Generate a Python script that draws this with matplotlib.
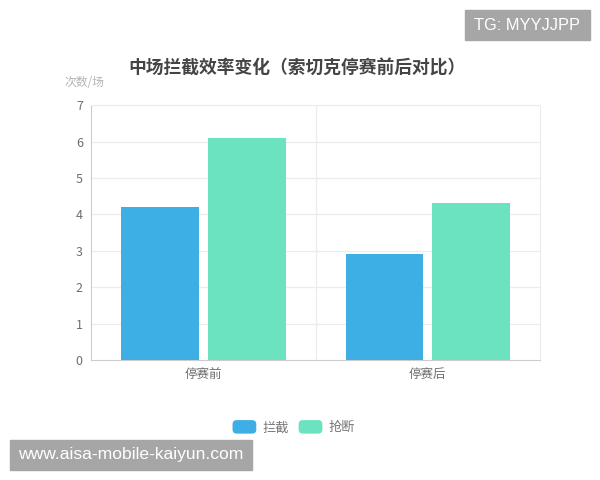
import matplotlib
matplotlib.use("Agg")
import matplotlib.pyplot as plt
from matplotlib.patches import Rectangle, FancyBboxPatch
from matplotlib.legend_handler import HandlerPatch
import numpy as np

plt.rcParams['font.family'] = ['Noto Sans CJK SC', 'DejaVu Sans']

# 数据
categories = ["停赛前", "停赛后"]
series_names = ["拦截", "抢断"]
intercepts = [4.2, 2.9]
tackles = [6.1, 4.3]
colors = ["#3eafe4", "#6be3c0"]


# 圆角图例色块
class RoundHandler(HandlerPatch):
    def create_artists(self, legend, orig_handle, xdescent, ydescent,
                       width, height, fontsize, trans):
        p = FancyBboxPatch((-xdescent, -ydescent), width, height,
                           boxstyle="round,pad=0,rounding_size=3",
                           facecolor=orig_handle.get_facecolor(), edgecolor="none",
                           transform=trans)
        return [p]


fig = plt.figure(figsize=(6, 4.8), dpi=100)
ax = fig.add_axes([0.152, 0.25, 0.748, 0.531])

x = np.arange(len(categories))
w = 0.347
b1 = ax.bar(x - 0.193, intercepts, w, color=colors[0], label=series_names[0], zorder=3)
b2 = ax.bar(x + 0.193, tackles, w, color=colors[1], label=series_names[1], zorder=3)

ax.set_xlim(-0.5, len(categories) - 0.5)
ax.set_ylim(0, 7)
ax.set_yticks(range(0, 8))
ax.set_xticks(x)
ax.set_xticklabels(categories)

# 网格
for y in range(1, 8):
    ax.axhline(y, color="#ececec", lw=0.9, zorder=1)
for xv in np.arange(0.5, len(categories) - 0.5, 1):
    ax.axvline(xv, color="#ececec", lw=0.9, zorder=1)

for s in ["top", "right"]:
    ax.spines[s].set_color("#ececec")
ax.spines["left"].set_color("#cccccc")
ax.spines["bottom"].set_color("#cccccc")
ax.tick_params(length=0, colors="#6e6e6e", labelsize=9, pad=6)

fig.text(0.495, 0.858, "中场拦截效率变化（索切克停赛前后对比）", ha="center", va="center",
         fontsize=12.8, fontweight="bold", color="#444444")
fig.text(0.108, 0.829, "次数/场", ha="left", va="center", fontsize=8.5,
         color="#b4b4b4", style="italic")

fig.legend(handles=[b1.patches[0], b2.patches[0]], labels=series_names,
           handler_map={Rectangle: RoundHandler()},
           loc="center", bbox_to_anchor=(0.49, 0.11), ncol=2, frameon=False,
           fontsize=9.5, handlelength=1.8, handleheight=1.2, columnspacing=0.7,
           handletextpad=0.5, labelcolor="#777777")

# 水印
fig.patches.append(Rectangle((465 / 600, 1 - 40 / 480), 125 / 600, 30 / 480,
                             transform=fig.transFigure, color="#a6a6a6", zorder=5))
fig.text(527 / 600, 1 - 25 / 480, "TG: MYYJJPP", ha="center", va="center",
         fontsize=11.8, color="white", family="Liberation Sans", zorder=6)
fig.patches.append(Rectangle((10 / 600, 1 - 470 / 480), 242 / 600, 30 / 480,
                             transform=fig.transFigure, color="#a6a6a6", zorder=5))
fig.text(131 / 600, 1 - 455 / 480, "www.aisa-mobile-kaiyun.com", ha="center", va="center",
         fontsize=12.6, color="white", family="Liberation Sans", zorder=6)

fig.savefig("out.png", dpi=100)
